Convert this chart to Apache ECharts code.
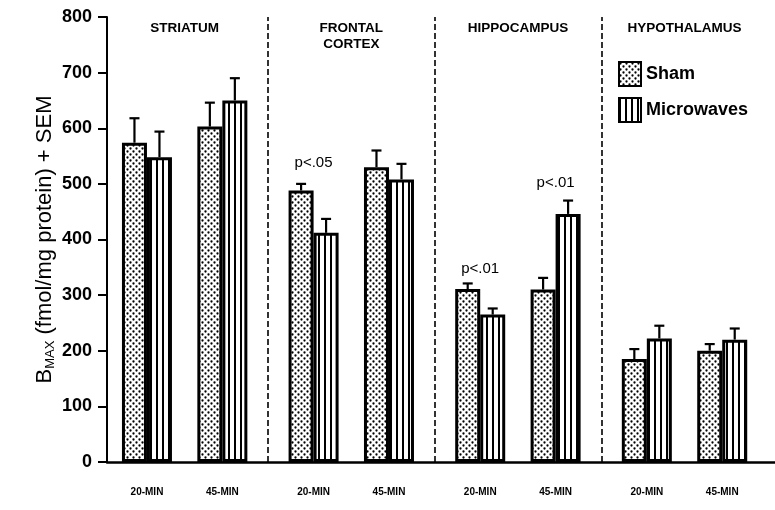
<!DOCTYPE html>
<html><head><meta charset="utf-8">
<script src="https://cdn.jsdelivr.net/npm/echarts@6/dist/echarts.min.js"></script>
<style>html,body{margin:0;padding:0;background:#fff}#c{width:775px;height:510px}</style>
</head><body><div id="c"></div>
<script>
// ---- data ----
const regions = ['STRIATUM', 'FRONTAL\nCORTEX', 'HIPPOCAMPUS', 'HYPOTHALAMUS'];
const times = ['20-MIN', '45-MIN'];
const shamMean = [574, 603, 488, 530, 311, 310, 185, 200];
const shamSem  = [44, 43, 12, 30, 10, 21, 18, 12];
const mwMean   = [548, 650, 412, 508, 265, 446, 222, 220];
const mwSem    = [46, 40, 25, 28, 11, 24, 23, 20];
const annotGroup = [2, 4, 5];
const annotText  = ['p<.05', 'p<.01', 'p<.01'];
const annotY     = [537, 348, 502];
const yTicks = [0, 100, 200, 300, 400, 500, 600, 700, 800];

// ---- layout of the grouped axis ----
const FIRST = 2.65, SECTION_STEP = 11.05, TIME_STEP = 5, X_MAX = 44.3;
const groupX = i => FIRST + Math.floor(i / 2) * SECTION_STEP + (i % 2) * TIME_STEP;
const nGroups = regions.length * times.length;
const gx = Array.from({length: nGroups}, (_, i) => groupX(i));
const groupLabel = i => times[i % 2];
const sectionMid = s => (gx[2 * s] + gx[2 * s + 1]) / 2;
const boundaries = [1, 2, 3].map(s => (gx[2 * s - 1] + gx[2 * s]) / 2);

// ---- fill patterns ----
function dotPattern() {
  const c = document.createElement('canvas'); c.width = 6; c.height = 6;
  const g = c.getContext('2d');
  g.fillStyle = '#fff'; g.fillRect(0, 0, 6, 6);
  g.fillStyle = '#000';
  [[1.5, 1.5], [4.5, 4.5]].forEach(p => { g.beginPath(); g.arc(p[0], p[1], 1.15, 0, Math.PI * 2); g.fill(); });
  return {image: c, repeat: 'repeat'};
}
function stripePattern() {
  const c = document.createElement('canvas'); c.width = 6; c.height = 6;
  const g = c.getContext('2d');
  g.fillStyle = '#fff'; g.fillRect(0, 0, 6, 6);
  g.fillStyle = '#000'; g.fillRect(0, 0, 2, 6);
  return {image: c, repeat: 'repeat'};
}

const BAR_W = 25;
const FONT = '"Liberation Sans", Arial, Helvetica, sans-serif';

function errorSeries(name, means, sems, side) {
  return {
    type: 'custom', name: name + ' SEM', silent: true, z: 5,
    data: gx.map((x, i) => [x, means[i], sems[i]]),
    renderItem: function (params, api) {
      const p0 = api.coord([api.value(0), api.value(1)]);
      const p1 = api.coord([api.value(0), api.value(1) + api.value(2)]);
      const px = p0[0] + side * BAR_W / 2;
      const st = {stroke: '#000', lineWidth: 2.2};
      return {type: 'group', children: [
        {type: 'line', shape: {x1: px, y1: p0[1], x2: px, y2: p1[1]}, style: st},
        {type: 'line', shape: {x1: px - 5, y1: p1[1], x2: px + 5, y2: p1[1]}, style: st}
      ]};
    }
  };
}

const chart = echarts.init(document.getElementById('c'), null, {renderer: 'canvas'});
chart.setOption({
  animation: false,
  backgroundColor: '#fff',
  textStyle: {fontFamily: FONT, color: '#000'},
  grid: {left: 107, right: 0, top: 17, bottom: 48},
  legend: {
    orient: 'vertical', left: 618, top: 61, padding: 0, itemWidth: 22, itemHeight: 24, itemGap: 10,
    icon: 'rect',
    data: ['Sham', 'Microwaves'],
    textStyle: {fontSize: 18, fontWeight: 'bold', color: '#000', fontFamily: FONT}
  },
  xAxis: {
    type: 'value', min: 0, max: X_MAX,
    splitLine: {show: false},
    axisLine: {show: true, onZero: false, lineStyle: {color: '#000', width: 2.5}},
    axisTick: {show: false},
    axisLabel: {
      customValues: gx, margin: 25, fontSize: 10, fontWeight: 'bold', color: '#000', fontFamily: FONT,
      formatter: v => { const i = gx.findIndex(x => Math.abs(x - v) < 1e-6); return i >= 0 ? groupLabel(i) : ''; }
    }
  },
  yAxis: {
    type: 'value', min: 0, max: 800, interval: 100,
    splitLine: {show: false},
    axisLine: {show: true, lineStyle: {color: '#000', width: 2}},
    axisTick: {show: true, length: 9, lineStyle: {color: '#000', width: 2}},
    axisLabel: {fontSize: 18, fontWeight: 'bold', color: '#000', margin: 15, fontFamily: FONT,
      customValues: yTicks},
    name: '{b|B}{s|MAX}{n| (fmol/mg protein) + SEM}',
    nameLocation: 'middle', nameGap: 50, nameMoveOverlap: false,
    nameTextStyle: {
      rich: {
        b: {fontSize: 22, fontFamily: FONT, color: '#000'},
        s: {fontSize: 13, fontFamily: FONT, color: '#000', padding: [12, 0, 0, 0]},
        n: {fontSize: 22, fontFamily: FONT, color: '#000'}
      }
    }
  },
  series: [
    {
      type: 'scatter', name: 'sections', symbolSize: 0, silent: true, z: 1,
      itemStyle: {opacity: 1},
      data: regions.map((r, s) => [sectionMid(s), 800, r]),
      label: {show: true, position: 'bottom', distance: 3, formatter: p => p.data[2],
        fontSize: 13.5, fontWeight: 'bold', lineHeight: 16, color: '#000', fontFamily: FONT},
      markLine: {
        silent: true, symbol: ['none', 'none'], label: {show: false},
        lineStyle: {type: [6, 3], color: '#000', width: 1.6, opacity: 1},
        data: boundaries.map(v => ({xAxis: v}))
      }
    },
    {
      type: 'bar', name: 'Sham', barWidth: BAR_W, barGap: '0%', z: 3,
      data: gx.map((x, i) => [x, shamMean[i]]),
      itemStyle: {color: dotPattern(), borderColor: '#000', borderWidth: 3}
    },
    {
      type: 'bar', name: 'Microwaves', barWidth: BAR_W, barGap: '0%', z: 3,
      data: gx.map((x, i) => [x, mwMean[i]]),
      itemStyle: {color: stripePattern(), borderColor: '#000', borderWidth: 3}
    },
    errorSeries('Sham', shamMean, shamSem, -1),
    errorSeries('Microwaves', mwMean, mwSem, 1),
    {
      type: 'scatter', name: 'annotations', symbolSize: 0, silent: true, z: 6,
      itemStyle: {opacity: 1},
      data: annotGroup.map((g, k) => [gx[g], annotY[k], annotText[k]]),
      label: {show: true, position: 'inside', formatter: p => p.data[2],
        fontSize: 15, color: '#000', fontFamily: FONT}
    }
  ]
});
</script></body></html>
